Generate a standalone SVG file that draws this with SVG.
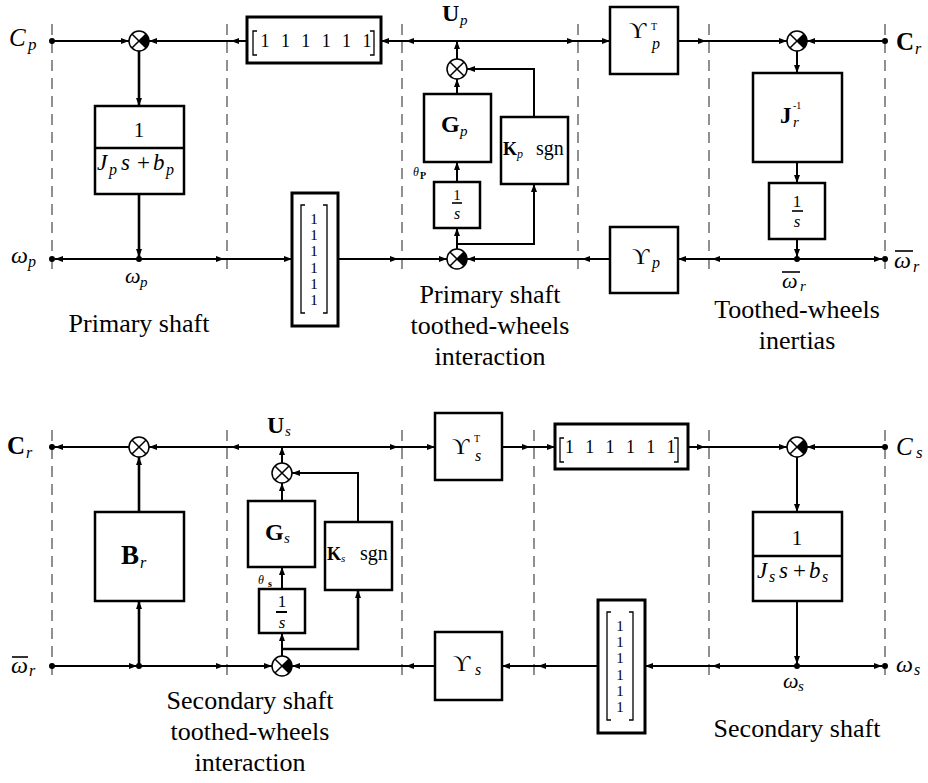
<svg xmlns="http://www.w3.org/2000/svg" width="928" height="783" viewBox="0 0 928 783">
<style>
text{font-family:"Liberation Serif","DejaVu Serif",serif;fill:#000}
.it{font-style:italic}
.bf{font-weight:bold}
.box{fill:#fff;stroke:#000;stroke-width:2.5}
.vbox{fill:#fff;stroke:#000;stroke-width:3}
.br{fill:none;stroke:#000;stroke-width:1.3}
.w{fill:none;stroke:#000;stroke-width:2;marker-end:url(#ah)}
.m{marker-mid:url(#ah)}
.dash{stroke:#555;stroke-width:1.3;stroke-dasharray:11 7}
.lbl{font-size:26px;text-anchor:middle}
.bar{stroke:#000;stroke-width:1.6}
</style>
<defs>
<marker id="ah" viewBox="0 0 8 6" refX="8" refY="3" markerWidth="8" markerHeight="6" markerUnits="userSpaceOnUse" orient="auto"><path d="M0,0 L8,3 L0,6 Z" fill="#000"/></marker>
<g id="sx"><circle r="10" fill="#fff" stroke="#000" stroke-width="1.5"/><path d="M-7.07,-7.07 L7.07,7.07 M-7.07,7.07 L7.07,-7.07" stroke="#000" stroke-width="1.5"/></g>
<g id="sxn"><use href="#sx"/><path d="M0,0 L7.07,-7.07 A10,10 0 0 1 7.07,7.07 Z" fill="#000"/></g>
</defs>
<rect width="928" height="783" fill="#fff"/>

<g id="dashed">
<path class="dash" d="M52,24V276 M227,24V276 M402,24V276 M578,24V276 M709,24V276 M885,24V276"/>
<path class="dash" d="M52,430V682 M227,430V682 M402,430V682 M534,430V682 M709,430V682 M885,430V682"/>
</g>

<g id="connectors">
<path class="w" d="M52,41 L129,41"/>
<path class="w m" d="M247,41 L231,41 L149,41"/>
<path class="w" d="M139,51 L139,106" style="stroke-width:2.6"/>
<path class="w" d="M139,194 L139,257" style="stroke-width:2.6"/>
<path class="w" d="M139,259 L55,259"/>
<path class="w m" d="M139,259 L224,259 L292,259"/>
<path class="w m" d="M338,259 L398,259 L447,259"/>
<path class="w m" d="M610,259 L582,259 L467,259"/>
<path class="w" d="M457,249 L457,228"/>
<path class="w" d="M457,244 L534,244 L534,184"/>
<path class="w" d="M457,182 L457,162"/>
<path class="w" d="M457,94 L457,79"/>
<path class="w" d="M534,117 L534,69 L467,69"/>
<path class="w" d="M457,59 L457,41"/>
<path class="w m" d="M457,41 L406,41 L381,41"/>
<path class="w m" d="M457,41 L575,41 L610,41"/>
<path class="w m" d="M678,41 L706,41 L787,41"/>
<path class="w" d="M885,41 L807,41"/>
<path class="w" d="M797,51 L797,73"/>
<path class="w" d="M797,162 L797,183"/>
<path class="w" d="M797,239 L797,257"/>
<path class="w m" d="M797,259 L712,259 L678,259"/>
<path class="w" d="M797,259 L882,259"/>

<path class="w" d="M129,447 L55,447"/>
<path class="w m" d="M282,447 L231,447 L149,447"/>
<path class="w" d="M139,512 L139,457" style="stroke-width:2.6"/>
<path class="w m" d="M282,447 L398,447 L435,447"/>
<path class="w m" d="M502,447 L530,447 L555,447"/>
<path class="w m" d="M688,447 L705,447 L787,447"/>
<path class="w" d="M885,447 L807,447"/>
<path class="w" d="M797,457 L797,512"/>
<path class="w" d="M797,601 L797,664"/>
<path class="w m" d="M797,666 L712,666 L645,666"/>
<path class="w" d="M797,666 L882,666"/>
<path class="w m" d="M598,666 L538,666 L502,666"/>
<path class="w m" d="M435,666 L406,666 L292,666"/>
<path class="w" d="M52,666 L137,666"/>
<path class="w m" d="M139,666 L224,666 L272,666"/>
<path class="w" d="M139,666 L139,601" style="stroke-width:2.6"/>
<path class="w" d="M282,656 L282,633"/>
<path class="w" d="M282,649 L358,649 L358,590" style="stroke-width:2.6"/>
<path class="w" d="M282,589 L282,567"/>
<path class="w" d="M282,501 L282,483"/>
<path class="w" d="M358,522 L358,473 L292,473"/>
<path class="w" d="M282,463 L282,447"/>
</g>

<!-- terminals -->
<g id="t-Cp"><circle cx="52" cy="41" r="3"/><text x="9" y="46" class="it" font-size="25">C</text><text x="28" y="50" class="it" font-size="17">p</text></g>
<g id="t-Cr-top"><circle cx="885" cy="41" r="3"/><text x="896" y="50" class="bf" font-size="25">C</text><text x="915" y="54" class="it" font-size="16">r</text></g>
<g id="t-wp"><circle cx="52" cy="259" r="3"/><text x="11" y="263" class="it" font-size="24">ω</text><text x="28" y="267" class="it" font-size="16">p</text></g>
<g id="t-wp-node"><circle cx="139" cy="259" r="3"/><text x="125" y="283" class="it" font-size="22">ω</text><text x="140" y="287" class="it" font-size="15">p</text></g>
<g id="t-wr-right"><circle cx="885" cy="259" r="3"/><text x="894" y="268" class="it" font-size="24">ω</text><line class="bar" x1="895" y1="251" x2="913" y2="251"/><text x="913" y="272" class="it" font-size="16">r</text></g>
<g id="t-wr-node"><circle cx="797" cy="259" r="3"/><text x="782" y="288" class="it" font-size="22">ω</text><line class="bar" x1="782" y1="272" x2="800" y2="272"/><text x="800" y="291" class="it" font-size="15">r</text></g>
<g id="t-Up"><text x="442" y="21" class="bf" font-size="24">U</text><text x="460" y="25" class="it" font-size="15">p</text></g>

<g id="t-Cr-bot"><circle cx="52" cy="447" r="3"/><text x="7" y="454" class="bf" font-size="25">C</text><text x="26" y="458" class="it" font-size="16">r</text></g>
<g id="t-Us"><text x="267" y="433" class="bf" font-size="24">U</text><text x="285" y="436" class="it" font-size="15">s</text></g>
<g id="t-Cs"><circle cx="885" cy="447" r="3"/><text x="896" y="455" class="it" font-size="25">C</text><text x="916" y="458" class="it" font-size="17">s</text></g>
<g id="t-ws-right"><circle cx="885" cy="666" r="3"/><text x="896" y="672" class="it" font-size="24">ω</text><text x="914" y="675" class="it" font-size="16">s</text></g>
<g id="t-ws-node"><circle cx="797" cy="666" r="3"/><text x="783" y="688" class="it" font-size="22">ω</text><text x="798" y="691" class="it" font-size="15">s</text></g>
<g id="t-wr-left"><circle cx="52" cy="666" r="3"/><text x="11" y="673" class="it" font-size="24">ω</text><line class="bar" x1="12" y1="657" x2="28" y2="657"/><text x="29" y="676" class="it" font-size="16">r</text></g>
<g id="t-wr-branch"><circle cx="139" cy="666" r="3"/></g>

<!-- summing junctions -->
<g id="sum-p"><use href="#sxn" x="139" y="41"/></g>
<g id="sum-pm-top"><use href="#sx" x="457" y="69"/></g>
<g id="sum-pm-bot"><use href="#sxn" x="457" y="259"/></g>
<g id="sum-r"><use href="#sxn" x="797" y="41"/></g>
<g id="sum-br"><use href="#sx" x="139" y="447"/></g>
<g id="sum-sm-top"><use href="#sx" x="282" y="473"/></g>
<g id="sum-sm-bot"><use href="#sxn" x="282" y="666"/></g>
<g id="sum-s"><use href="#sxn" x="797" y="447"/></g>

<!-- top blocks -->
<g id="box-Jp">
<rect class="box" x="95" y="106" width="89" height="88"/>
<line x1="95" y1="148" x2="184" y2="148" stroke="#000" stroke-width="2.5"/>
<text x="139" y="137" font-size="21" text-anchor="middle">1</text>
<text y="170" font-size="23"><tspan x="97" class="it">J</tspan><tspan x="109" y="175" class="it" font-size="16">p</tspan><tspan x="121" y="170" class="it">s</tspan><tspan x="137" y="170">+</tspan><tspan x="153" y="170" class="it">b</tspan><tspan x="166" y="175" class="it" font-size="16">p</tspan></text>
</g>
<g id="rowvec-p">
<rect class="vbox" x="247" y="17" width="134" height="46"/>
<path class="br" d="M257,31 H253 V55 H257 M370,31 H374 V55 H370"/>
<text y="47" font-size="18" text-anchor="middle"><tspan x="265">1</tspan><tspan x="285.4">1</tspan><tspan x="305.8">1</tspan><tspan x="326.2">1</tspan><tspan x="346.6">1</tspan><tspan x="367">1</tspan></text>
</g>
<g id="colvec-p">
<rect class="vbox" x="292" y="193" width="46" height="133"/>
<path class="br" d="M305,205 H301 V313 H305 M323,205 H327 V313 H323"/>
<text font-size="15" text-anchor="middle"><tspan x="314" y="224">1</tspan><tspan x="314" y="240">1</tspan><tspan x="314" y="256">1</tspan><tspan x="314" y="273">1</tspan><tspan x="314" y="289">1</tspan><tspan x="314" y="305">1</tspan></text>
</g>
<g id="box-Gp">
<rect class="box" x="424" y="94" width="67" height="68"/>
<text x="441" y="132" class="bf" font-size="24">G</text><text x="460" y="136" class="it" font-size="15">p</text>
</g>
<g id="box-Kp">
<rect class="box" x="501" y="117" width="67" height="67"/>
<text x="503" y="155" class="bf" font-size="18">K</text><text x="517" y="158" class="it" font-size="12">p</text>
<text x="536" y="155" font-size="20">sgn</text>
</g>
<g id="box-intp">
<rect class="box" x="434" y="182" width="46" height="46"/>
<text x="457" y="200" font-size="15" text-anchor="middle">1</text>
<line class="bar" x1="452" y1="203" x2="462" y2="203"/>
<text x="457" y="219" class="it" font-size="16" text-anchor="middle">s</text>
<text x="413" y="176" class="it" font-size="12">θ</text><text x="420" y="179" class="bf" font-size="10">P</text>
</g>
<g id="box-UpT">
<rect class="box" x="610" y="7" width="68" height="67"/>
<text x="629" y="38" font-size="24">ϒ</text><text x="651" y="30" font-size="10">T</text><text x="652" y="49" class="it" font-size="16">p</text>
</g>
<g id="box-Upsp">
<rect class="box" x="610" y="227" width="68" height="66"/>
<text x="632" y="264" font-size="24">ϒ</text><text x="652" y="268" class="it" font-size="16">p</text>
</g>
<g id="box-Jr">
<rect class="box" x="753" y="73" width="89" height="89"/>
<text x="780" y="123" class="bf" font-size="23">J</text><text x="793" y="109" font-size="10">-1</text><text x="793" y="127" class="it" font-size="15">r</text>
</g>
<g id="box-intr">
<rect class="box" x="769" y="183" width="56" height="56"/>
<text x="797" y="207" font-size="17" text-anchor="middle">1</text>
<line class="bar" x1="792" y1="211" x2="803" y2="211"/>
<text x="797" y="227" class="it" font-size="17" text-anchor="middle">s</text>
</g>

<!-- bottom blocks -->
<g id="box-Br">
<rect class="box" x="95" y="512" width="89" height="89"/>
<text x="121" y="564" class="bf" font-size="27">B</text><text x="140" y="568" class="it" font-size="16">r</text>
</g>
<g id="box-Gs">
<rect class="box" x="248" y="501" width="67" height="66"/>
<text x="265" y="540" class="bf" font-size="24">G</text><text x="284" y="543" class="it" font-size="15">s</text>
</g>
<g id="box-Ks">
<rect class="box" x="325" y="522" width="67" height="68"/>
<text x="327" y="560" class="bf" font-size="18">K</text><text x="341" y="562" class="it" font-size="11">s</text>
<text x="360" y="560" font-size="20">sgn</text>
</g>
<g id="box-ints">
<rect class="box" x="259" y="589" width="46" height="44"/>
<text x="282" y="607" font-size="17" text-anchor="middle">1</text>
<line x1="276" y1="612" x2="287" y2="612" stroke="#000" stroke-width="2"/>
<text x="282" y="628" class="it" font-size="17" text-anchor="middle">s</text>
<text x="258" y="584" class="it" font-size="12">θ</text><text x="268" y="587" class="bf" font-size="10">s</text>
</g>
<g id="box-UsT">
<rect class="box" x="435" y="413" width="67" height="67"/>
<text x="452" y="454" font-size="24">ϒ</text><text x="474" y="442" font-size="10">T</text><text x="475" y="461" class="it" font-size="16">s</text>
</g>
<g id="box-Upss">
<rect class="box" x="435" y="632" width="67" height="68"/>
<text x="453" y="671" font-size="24">ϒ</text><text x="475" y="675" class="it" font-size="16">s</text>
</g>
<g id="rowvec-s">
<rect class="vbox" x="555" y="424" width="133" height="45"/>
<path class="br" d="M564,438 H560 V462 H564 M674,438 H678 V462 H674"/>
<text y="453" font-size="18" text-anchor="middle"><tspan x="569.5">1</tspan><tspan x="589.8">1</tspan><tspan x="610.1">1</tspan><tspan x="630.4">1</tspan><tspan x="650.7">1</tspan><tspan x="671">1</tspan></text>
</g>
<g id="colvec-s">
<rect class="vbox" x="598" y="600" width="47" height="133"/>
<path class="br" d="M611,612 H607 V720 H611 M629,612 H633 V720 H629"/>
<text font-size="15" text-anchor="middle"><tspan x="620" y="631">1</tspan><tspan x="620" y="647">1</tspan><tspan x="620" y="663">1</tspan><tspan x="620" y="680">1</tspan><tspan x="620" y="696">1</tspan><tspan x="620" y="712">1</tspan></text>
</g>
<g id="box-Js">
<rect class="box" x="753" y="512" width="89" height="89"/>
<line x1="753" y1="556" x2="842" y2="556" stroke="#000" stroke-width="2.5"/>
<text x="797" y="545" font-size="21" text-anchor="middle">1</text>
<text y="578" font-size="23"><tspan x="757" class="it">J</tspan><tspan x="769" y="582" class="it" font-size="16">s</tspan><tspan x="779" y="578" class="it">s</tspan><tspan x="793" y="578">+</tspan><tspan x="809" y="578" class="it">b</tspan><tspan x="822" y="582" class="it" font-size="16">s</tspan></text>
</g>

<!-- section captions -->
<g id="captions">
<text class="lbl" x="139" y="332">Primary shaft</text>
<text class="lbl" x="490" y="303">Primary shaft</text>
<text class="lbl" x="490" y="334">toothed-wheels</text>
<text class="lbl" x="490" y="365">interaction</text>
<text class="lbl" x="797" y="318">Toothed-wheels</text>
<text class="lbl" x="797" y="349">inertias</text>
<text class="lbl" x="250" y="709">Secondary shaft</text>
<text class="lbl" x="250" y="740">toothed-wheels</text>
<text class="lbl" x="250" y="771">interaction</text>
<text class="lbl" x="797" y="737">Secondary shaft</text>
</g>
</svg>
